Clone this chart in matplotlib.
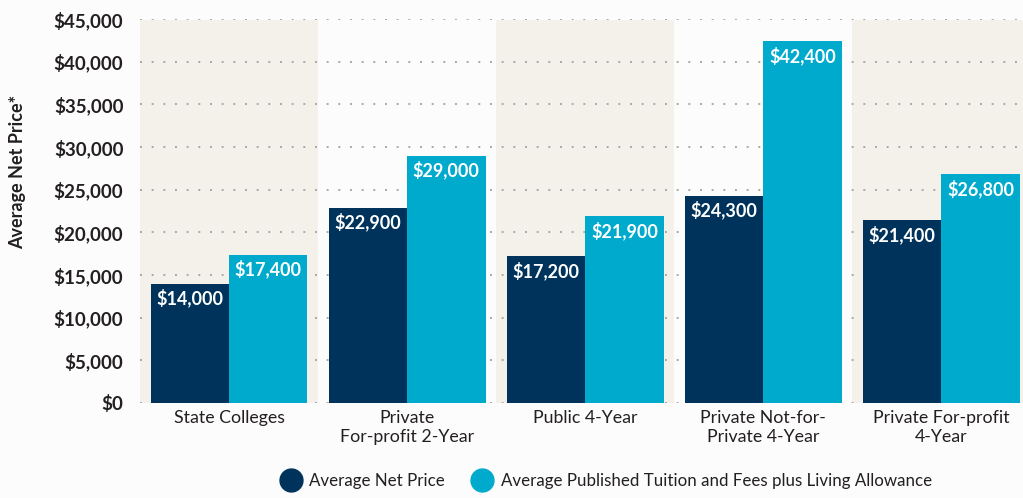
import numpy as np
import matplotlib
matplotlib.use("Agg")
import matplotlib.pyplot as plt
from matplotlib.lines import Line2D
from matplotlib.ticker import FuncFormatter

plt.rcParams["font.family"] = ["Lato", "DejaVu Sans"]

# data
categories = ["State Colleges", "Private\nFor-profit 2-Year", "Public 4-Year",
              "Private Not-for-\nPrivate 4-Year", "Private For-profit\n4-Year"]
net_price = [14000, 22900, 17200, 24300, 21400]
published = [17400, 29000, 21900, 42400, 26800]
series_names = ["Average Net Price",
                "Average Published Tuition and Fees plus Living Allowance"]

C = {
    "navy": "#00335B",
    "teal": "#00AACD",
    "band": "#F4F1EA",
    "bg":   "#FCFCFC",
    "text": "#231F20",
    "grid": "#A8A8A8",
}

fig = plt.figure(figsize=(10.23, 4.98), dpi=100, facecolor=C["bg"])
# plot area runs slightly past the right edge of the picture (as in the original)
ax = fig.add_axes([140 / 1023, 1 - 403 / 498, (1030.5 - 140) / 1023, (403 - 19) / 498])
ax.set_facecolor(C["bg"])

x = np.arange(len(categories))
w = 0.44

# alternating shaded bands
for i in x[::2]:
    ax.axvspan(i - 0.5, i + 0.5, ymin=0, ymax=0.997, color=C["band"], zorder=0, lw=0)

ax.set_ylim(0, 45000)
ax.set_xlim(-0.5, len(categories) - 0.5)
ax.set_yticks(np.arange(0, 45001, 5000))
ax.yaxis.set_major_formatter(FuncFormatter(lambda v, p: f"${v:,.0f}"))
ax.grid(axis="y", color=C["grid"], linestyle=(0, (1, 5)), linewidth=1.4, zorder=1)
ax.set_axisbelow(True)

b1 = ax.bar(x - w / 2, net_price, w, color=C["navy"], zorder=3)
b2 = ax.bar(x + w / 2, published, w, color=C["teal"], zorder=3)

for bars in (b1, b2):
    for r in bars:
        ax.annotate(f"${r.get_height():,.0f}",
                    xy=(r.get_x() + r.get_width() / 2, r.get_height()),
                    xytext=(0, -10.5), textcoords="offset points",
                    ha="center", va="center", color="white",
                    fontsize=13, fontweight="bold", zorder=4)

for s in ax.spines.values():
    s.set_visible(False)
ax.tick_params(axis="both", length=0)
ax.tick_params(axis="y", pad=12, labelsize=13.5, labelcolor=C["text"])
for t in ax.get_yticklabels():
    t.set_fontweight("bold")
ax.set_xticks(x)
ax.set_xticklabels(categories, fontsize=12.8, color=C["text"], linespacing=1.2)
ax.tick_params(axis="x", pad=5)

fig.text(18 / 1023, 1 - 172 / 498, "Average Net Price*", rotation=90,
         ha="center", va="center", fontsize=13, fontweight="bold", color=C["text"])

handles = [Line2D([], [], marker="o", ls="", markersize=16.5, color=C["navy"]),
           Line2D([], [], marker="o", ls="", markersize=16.5, color=C["teal"])]
fig.legend(handles, series_names, loc="center", bbox_to_anchor=(603 / 1023, 1 - 481 / 498),
           ncol=2, frameon=False, fontsize=12.2, handletextpad=0.1, columnspacing=1.2,
           labelcolor=C["text"])

fig.savefig("out.png", dpi=100, facecolor=C["bg"])
